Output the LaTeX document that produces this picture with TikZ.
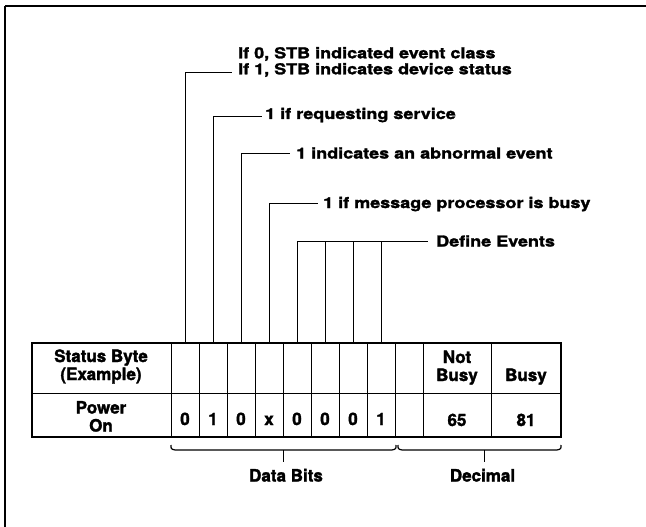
\documentclass[tikz,border=0pt]{standalone}
\usepackage{fontspec}
\setmainfont{TeX Gyre Heros}
\newfontfamily\annfont[FakeStretch=1.2,FakeBold=1.8]{TeX Gyre Heros}
\newfontfamily\tabfont[FakeBold=1.8]{TeX Gyre Heros}
\begin{document}
\begin{tikzpicture}[x=1pt,y=-1pt,
  ann/.style={font=\annfont\bfseries\fontsize{15}{16}\selectfont, inner sep=0pt, anchor=base west},
  cell/.style={font=\tabfont\bfseries\fontsize{17}{18}\selectfont, inner sep=0pt, anchor=base, align=center},
  lead/.style={line width=0.9pt},
  grid/.style={line width=0.9pt},
  outer/.style={line width=1.3pt},
  brace/.style={line width=1.2pt}]
\useasboundingbox (0,0) rectangle (646,527);
% frame
\draw[line width=2pt] (5,6) -- (646,6);
\draw[line width=1.5pt] (5,6) -- (5,527);

% table
\draw[outer] (32,343) rectangle (561,437);
\draw[grid] (32,393) -- (561,393);
\foreach \x in {171,199,227,255,283,311,339,367,395,423,491}
  \draw[grid] (\x,343) -- (\x,437);

% column top coordinates
\foreach \i/\x in {0/185,1/213,2/241,3/269,4/297,5/325,6/353,7/381}
  \coordinate (b\i) at (\x,343);

% annotation texts
\node[ann, anchor=west, align=left] (t0) at (238,62) {If 0, STB indicated event class\\If 1, STB indicates device status};
\node[ann] (t1) at (265,119) {1 if requesting service};
\node[ann] (t2) at (296,158.5) {1 indicates an abnormal event};
\node[ann] (t3) at (323,208) {1 if message processor is busy};
\node[ann] (t4) at (436,246.5) {Define Events};

\coordinate (e0) at (232,72);
\coordinate (e1) at (262,116);
\coordinate (e2) at (290,153);
\coordinate (e3) at (318,203);
\coordinate (e4) at (428,241);

\draw[lead] (b0) |- (e0);
\draw[lead] (b1) |- (e1);
\draw[lead] (b2) |- (e2);
\draw[lead] (b3) |- (e3);
\draw[lead] (b4) |- (e4);
\draw[lead] (b5) -- (b5 |- e4);
\draw[lead] (b6) -- (b6 |- e4);
\draw[lead] (b7) -- (b7 |- e4);

% cell texts (multi-line nodes: base = last line)
\node[cell] (sb) at (101,380) {Status Byte\\(Example)};
\node[cell] (po) at (101,431.5) {Power\\On};
\foreach \i/\x/\v in {0/185/0,1/213/1,2/241/0,3/269/x,4/297/0,5/325/0,6/353/0,7/381/1}
  \node[cell] (d\i) at (\x,425) {\v};
\node[cell] (nb) at (457,381) {Not\\Busy};
\node[cell] (bu) at (526,381) {Busy};
\node[cell] (v65) at (457,426) {65};
\node[cell] (v81) at (526,426) {81};

% braces
\coordinate (db0) at (171,445);
\coordinate (db1) at (396,445);
\coordinate (dc0) at (398,445);
\coordinate (dc1) at (561,445);
\draw[brace] (db0) .. controls (171,449) .. (175,450) -- (392,450) .. controls (396,449) .. (db1);
\draw[brace] (dc0) .. controls (398,449) .. (402,450) -- (557,450) .. controls (561,449) .. (dc1);
\coordinate (tk1) at (283,450);
\coordinate (tk2) at (484,450);
\node[cell] (dbl) at (286,481.5) {Data Bits};
\node[cell] (dcl) at (482.5,481.5) {Decimal};
\draw[lead] (tk1) -- (tk1 |- 0,462);
\draw[lead] (tk2) -- (tk2 |- 0,462);
\end{tikzpicture}
\end{document}
